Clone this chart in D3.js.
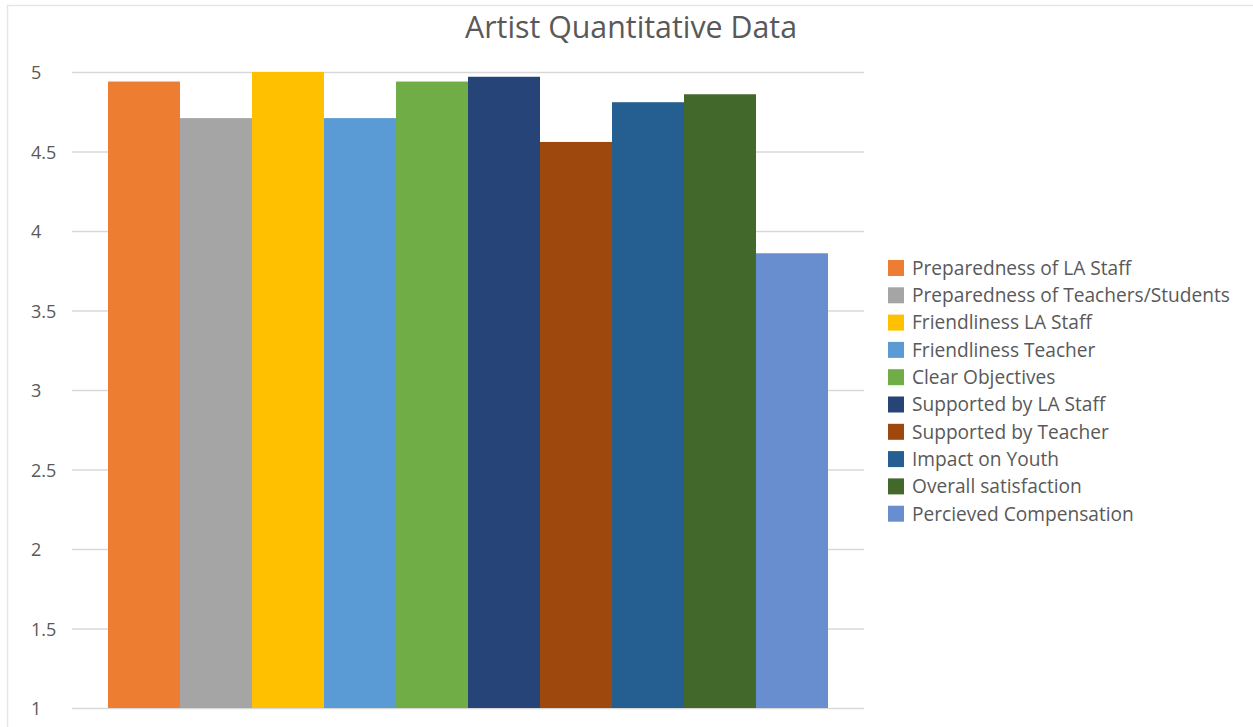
<!DOCTYPE html>
<html>
<head>
<meta charset="utf-8">
<script src="https://cdn.jsdelivr.net/npm/d3@7"></script>
<style>
  html, body { margin: 0; padding: 0; background: #ffffff; }
  svg { display: block; font-family: "Open Sans", "Lato", sans-serif; }
</style>
</head>
<body>
<svg id="chart" width="1253" height="727"></svg>
<script>
// Survey measures and their average ratings (scale 1–5)
const categories = [
  "Preparedness of LA Staff",
  "Preparedness of Teachers/Students",
  "Friendliness LA Staff",
  "Friendliness Teacher",
  "Clear Objectives",
  "Supported by LA Staff",
  "Supported by Teacher",
  "Impact on Youth",
  "Overall satisfaction",
  "Percieved Compensation"
];
const values = [4.94, 4.71, 5.0, 4.71, 4.94, 4.97, 4.56, 4.81, 4.86, 3.86];
const colors = [
  "#ed7d31", "#a5a5a5", "#ffc000", "#5b9bd5", "#70ad47",
  "#264478", "#9e480e", "#255e91", "#43682b", "#698ed0"
];
const yTicks = [1, 1.5, 2, 2.5, 3, 3.5, 4, 4.5, 5];
const chartTitle = "Artist Quantitative Data";

const svg = d3.select("#chart");
const textColor = "#595959";
const gridColor = "#d9d9d9";

// Scale a text element's font size so its rendered width equals `target`
function fitWidth(sel, target) {
  sel.each(function () {
    const el = this;
    const fs = parseFloat(getComputedStyle(el).fontSize);
    const w = el.getComputedTextLength();
    if (w > 0) d3.select(el).style("font-size", (fs * target / w).toFixed(2) + "px");
  });
}

// Chart frame (top and left edges are visible in the canvas)
svg.append("rect")
  .attr("x", 7.5).attr("y", 5.5)
  .attr("width", 1300).attr("height", 800)
  .attr("fill", "#ffffff")
  .attr("stroke", "#e6e6e6").attr("stroke-width", 1.5);

const plot = { left: 72, right: 864, top: 72, bottom: 708 };

const y = d3.scaleLinear().domain([1, 5]).range([plot.bottom, plot.top]);

// One cluster holding every measure, with half-bar gaps on each side
const groupPad = (plot.right - plot.left) / (categories.length + 1) / 2;
const x = d3.scaleBand()
  .domain(categories)
  .range([plot.left + groupPad, plot.right - groupPad])
  .padding(0);

// Gridlines and value labels
const yAxis = d3.axisLeft(y)
  .tickValues(yTicks)
  .tickSize(-(plot.right - plot.left))
  .tickFormat(d => d3.format("~g")(d));

const gAxis = svg.append("g")
  .attr("transform", `translate(${plot.left},0)`)
  .call(yAxis);
gAxis.select(".domain").remove();
gAxis.selectAll(".tick line").attr("stroke", gridColor).attr("stroke-width", 1.5);
gAxis.selectAll(".tick text")
  .attr("x", 31 - plot.left)
  .attr("dy", "0.38em")
  .attr("text-anchor", "start")
  .attr("fill", textColor)
  .style("font-size", "18px")
  .style("font-family", "'Open Sans', Lato, sans-serif");

// Bars
svg.append("g").selectAll("rect")
  .data(categories)
  .join("rect")
  .attr("x", d => x(d))
  .attr("width", x.bandwidth())
  .attr("y", (d, i) => y(values[i]))
  .attr("height", (d, i) => y(1) - y(values[i]))
  .attr("fill", (d, i) => colors[i]);

// Title
const title = svg.append("text")
  .attr("x", 631).attr("y", 38)
  .attr("text-anchor", "middle")
  .attr("fill", textColor)
  .style("font-size", "26px")
  .text(chartTitle);
fitWidth(title, 332);

// Legend
const legend = svg.append("g").attr("transform", "translate(888,260)");
const rowStep = 27.3;
const items = legend.selectAll("g")
  .data(categories)
  .join("g")
  .attr("transform", (d, i) => `translate(0,${i * rowStep})`);
items.append("rect")
  .attr("width", 16).attr("height", 16)
  .attr("fill", (d, i) => colors[i]);
const labels = items.append("text")
  .attr("x", 24).attr("y", 8)
  .attr("dy", "0.36em")
  .attr("fill", textColor)
  .style("font-size", "16px")
  .text(d => d);

// Size the legend font so the longest entry spans the legend column
const longest = labels.filter((d, i) => i === 1);
const fs0 = 16;
const w0 = longest.node().getComputedTextLength();
const legendFs = (fs0 * 318 / w0).toFixed(2) + "px";
labels.style("font-size", legendFs);
</script>
</body>
</html>
